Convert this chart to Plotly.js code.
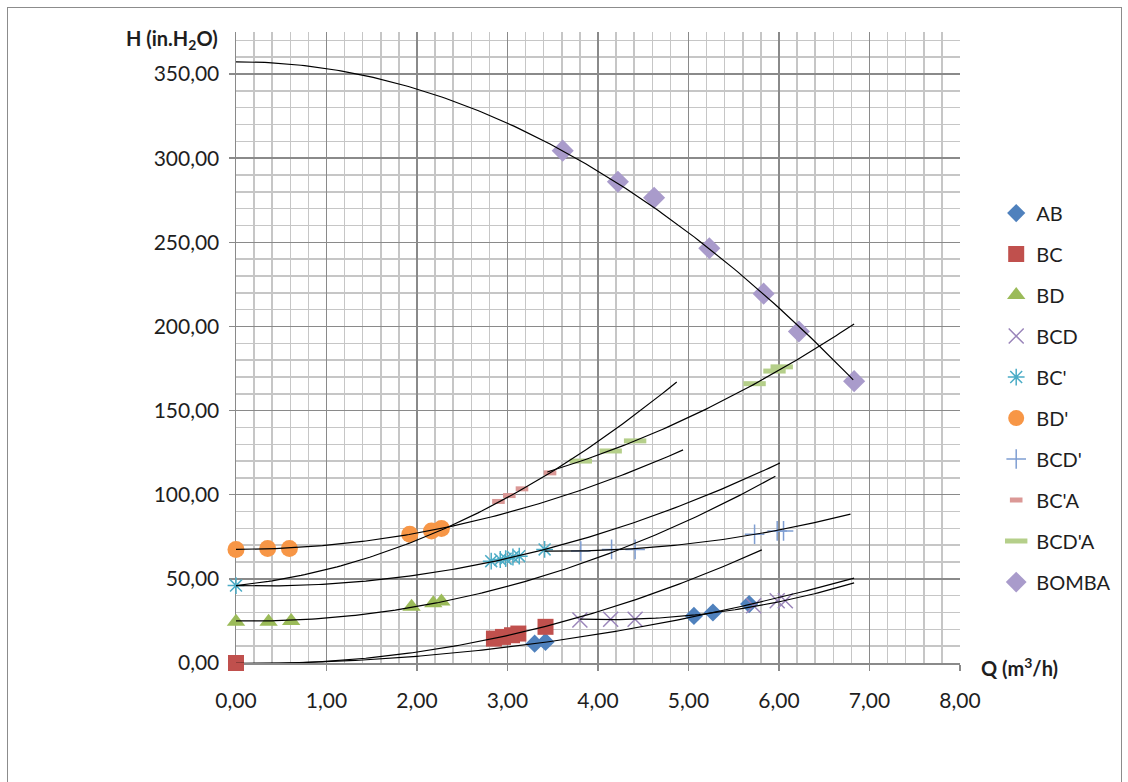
<!DOCTYPE html>
<html>
<head>
<meta charset="utf-8">
<script src="https://cdn.plot.ly/plotly-3.0.1.min.js"></script>
<style>
  html, body { margin: 0; padding: 0; background: #fff; }
  body { position: relative; width: 1128px; height: 782px; overflow: hidden; }
  #frame { position: absolute; left: 7px; top: 7px; width: 1115px; height: 830px;
           border: 1px solid #8c8c8c; box-sizing: border-box; }
  #chart { position: absolute; left: 0; top: 0; width: 1128px; height: 782px; }
</style>
</head>
<body>
<div id="frame"></div>
<div id="chart"></div>
<script>
// Measured points: flow Q (m3/h) and head H (in. H2O) for each pipe configuration
const qAB = [3.30, 3.42, 5.06, 5.27, 5.67];
const hAB = [11.5, 12.5, 28.0, 30.0, 35.0];

const qBC = [0.00, 2.85, 2.95, 3.05, 3.12, 3.42];
const hBC = [0.0, 14.5, 15.5, 16.5, 17.5, 21.5];

const qBD = [0.00, 0.36, 0.61, 1.94, 2.18, 2.27];
const hBD = [24.5, 24.5, 25.0, 33.5, 35.5, 36.5];

const qBCD = [3.80, 4.14, 4.41, 5.72, 5.98, 6.07];
const hBCD = [25.5, 26.0, 26.0, 34.0, 37.0, 37.0];

const qBCp = [0.00, 2.82, 2.92, 2.98, 3.06, 3.13, 3.41];
const hBCp = [46.0, 60.5, 61.5, 62.0, 63.0, 63.5, 67.5];

const qBDp = [0.00, 0.35, 0.59, 1.92, 2.16, 2.27];
const hBDp = [67.5, 68.0, 68.0, 76.5, 78.5, 80.0];

const qBCDp = [3.81, 4.15, 4.41, 5.73, 5.98, 6.05];
const hBCDp = [66.5, 67.5, 67.5, 76.5, 78.5, 78.5];

const qBCpA = [2.90, 3.02, 3.16, 3.47];
const hBCpA = [96.0, 99.5, 103.5, 113.0];

const qBCDpA = [3.81, 4.14, 4.41, 5.73, 5.95, 6.03];
const hBCDpA = [120.0, 126.0, 132.0, 166.0, 173.5, 176.0];

const qBOMBA = [3.61, 4.22, 4.62, 5.23, 5.83, 6.22, 6.83];
const hBOMBA = [304.5, 286.0, 276.5, 246.5, 219.5, 197.0, 167.5];

// Second-order polynomial trendlines: H = c0 + c1*Q + c2*Q^2, drawn over [from, to]
const trendNames = ["AB", "BC", "BD", "BCD", "BC'", "BD'", "BCD'", "BC'A", "BCD'A", "BOMBA"];
const trendC0 = [-0.38, -0.15, 25.0, 75.05, 46.0, 67.5, 93.73, 46.0, 91.03, 357.3];
const trendC1 = [0.003, -1.027, -0.84, -24.03, -1.34, 0.02, -15.25, 5.57, -3.25, 0.04];
const trendC2 = [1.09, 2.172, 2.56, 2.93, 2.24, 2.42, 2.133, 3.96, 2.844, -4.07];
const trendFrom = [0.00, 0.00, 0.00, 3.80, 0.00, 0.00, 3.41, 0.00, 3.44, 0.00];
const trendTo = [6.83, 5.81, 5.96, 6.83, 6.01, 4.94, 6.79, 4.87, 6.83, 6.82];

// Axis tick values
const xTicks = [0, 1, 2, 3, 4, 5, 6, 7, 8];
const yTicks = [0, 50, 100, 150, 200, 250, 300, 350];

// Minor grid positions (every 0.2 on Q, every 10 on H), skipping the major ones
const xMinor = [], yMinor = [];
for (let k = 1; k < 40; k++) if (k % 5) xMinor.push(+(k * 0.2).toFixed(1));
for (let k = 1; k <= 37; k++) if (k % 5) yMinor.push(k * 10);

const series = [
  { name: "AB", q: qAB, h: hAB, marker: { symbol: "diamond", size: 14, color: "#4F81BD" } },
  { name: "BC", q: qBC, h: hBC, marker: { symbol: "square", size: 16, color: "#C0504D" } },
  { name: "BD", q: qBD, h: hBD, marker: { symbol: "triangle-up", size: 16, color: "#9BBB59" } },
  { name: "BCD", q: qBCD, h: hBCD, marker: { symbol: "x-thin-open", size: 15, color: "#9A85BA", line: { width: 1.5, color: "#9A85BA" } } },
  { name: "BC'", q: qBCp, h: hBCp, marker: { symbol: "asterisk-open", size: 14, color: "#4BACC6", line: { width: 1.5, color: "#4BACC6" } } },
  { name: "BD'", q: qBDp, h: hBDp, marker: { symbol: "circle", size: 17, color: "#F79646" } },
  { name: "BCD'", q: qBCDp, h: hBCDp, marker: { symbol: "cross-thin-open", size: 14, color: "#7F9ED2", line: { width: 1.5, color: "#7F9ED2" } } },
  { name: "BC'A", q: qBCpA, h: hBCpA, marker: { symbol: "line-ew-open", size: 9, color: "#DB9896", line: { width: 5, color: "#DB9896" } } },
  { name: "BCD'A", q: qBCDpA, h: hBCDpA, marker: { symbol: "line-ew-open", size: 16, color: "#B5CF8A", line: { width: 5, color: "#B5CF8A" } } },
  { name: "BOMBA", q: qBOMBA, h: hBOMBA, marker: { symbol: "diamond", size: 17, color: "#A99BCB" } }
];

const traces = [];
series.forEach(s => {
  traces.push({
    type: "scatter", mode: "markers", name: s.name, legendgroup: s.name,
    x: s.q, y: s.h, marker: s.marker, cliponaxis: false, hoverinfo: "x+y+name"
  });
});

// Trendline curves, sampled along Q and drawn on top of the markers
trendNames.forEach((nm, i) => {
  const xs = [], ys = [];
  const n = Math.ceil((trendTo[i] - trendFrom[i]) / 0.04);
  for (let k = 0; k <= n; k++) {
    const q = trendFrom[i] + (trendTo[i] - trendFrom[i]) * k / n;
    xs.push(q);
    ys.push(trendC0[i] + trendC1[i] * q + trendC2[i] * q * q);
  }
  traces.push({
    type: "scatter", mode: "lines", name: "Polinómica (" + nm + ")",
    x: xs, y: ys, showlegend: false, hoverinfo: "skip",
    line: { color: "#000000", width: 1.2 }
  });
});

const gridMajor = "#8a8a8a";
const gridMinor = "#c6c6c6";
const fontFam = "Lato, 'Open Sans', sans-serif";

const layout = {
  width: 1128, height: 782,
  margin: { l: 236, r: 162, t: 32, b: 119, pad: 0 },
  paper_bgcolor: "rgba(0,0,0,0)",
  plot_bgcolor: "#ffffff",
  separators: ",.",
  font: { family: fontFam, size: 21, color: "#1e1e1e" },
  showlegend: true,
  xaxis: {
    range: [0, 8], tickvals: xTicks, tickformat: ".2f",
    showgrid: true, gridcolor: gridMajor, gridwidth: 1.5,
    minor: { tickvals: xMinor, showgrid: true, gridcolor: gridMinor, gridwidth: 1.5, ticks: "" },
    showline: true, linecolor: gridMajor, linewidth: 1.5,
    ticks: "outside", ticklen: 6, tickcolor: gridMajor, tickwidth: 1.5,
    ticklabelstandoff: 12, zeroline: false, fixedrange: true, layer: "below traces"
  },
  yaxis: {
    range: [0, 375], tickvals: yTicks, tickformat: ".2f",
    showgrid: true, gridcolor: gridMajor, gridwidth: 1.5,
    minor: { tickvals: yMinor, showgrid: true, gridcolor: gridMinor, gridwidth: 1.5, ticks: "" },
    showline: true, linecolor: gridMajor, linewidth: 1.5,
    ticks: "outside", ticklen: 6, tickcolor: gridMajor, tickwidth: 1.5,
    ticklabelstandoff: 5, zeroline: false, fixedrange: true, layer: "below traces"
  },
  legend: {
    x: 1.05, xanchor: "left", y: 0.744, yanchor: "top",
    traceorder: "grouped", tracegroupgap: 12,
    font: { family: fontFam, size: 20, color: "#1e1e1e" },
    bgcolor: "rgba(0,0,0,0)", borderwidth: 0, itemclick: false, itemdoubleclick: false
  },
  annotations: [
    { xref: "paper", yref: "paper", x: -0.022, y: 0.988, xanchor: "right", yanchor: "middle",
      text: "<b>H (in.H<sub>2</sub>O)</b>", showarrow: false,
      font: { family: fontFam, size: 20, color: "#1e1e1e" } },
    { xref: "paper", yref: "paper", x: 1.026, y: -0.006, xanchor: "left", yanchor: "middle",
      text: "<b>Q (m<sup>3</sup>/h)</b>", showarrow: false,
      font: { family: fontFam, size: 20, color: "#1e1e1e" } }
  ]
};

Plotly.newPlot("chart", traces, layout, { displayModeBar: false, staticPlot: true });
</script>
</body>
</html>
